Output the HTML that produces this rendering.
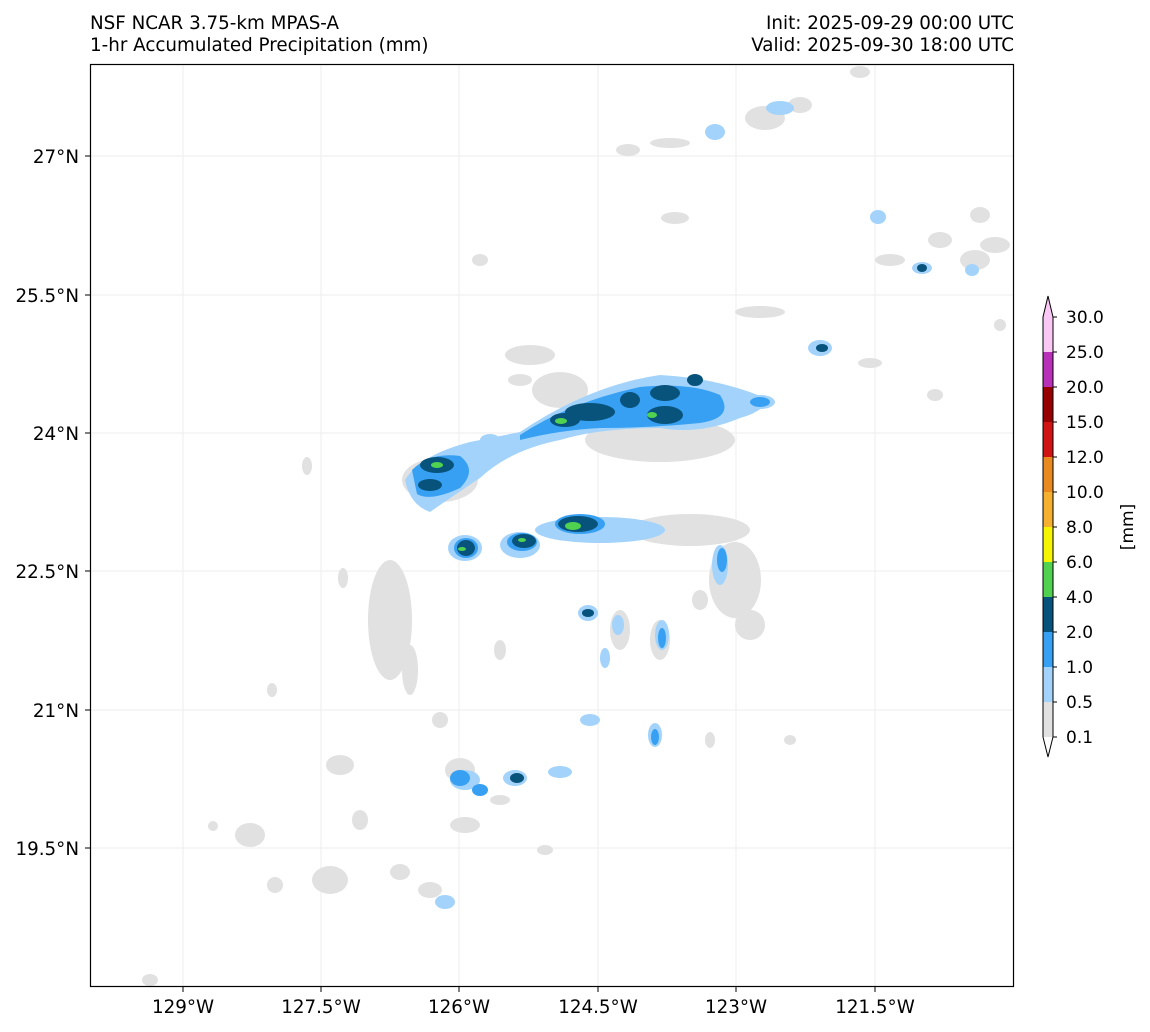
<!DOCTYPE html>
<html><head><meta charset="utf-8"><style>
body{margin:0;background:#fff;width:1150px;height:1032px;overflow:hidden}
svg{display:block;font-family:"DejaVu Sans","Liberation Sans",sans-serif}
</style></head><body>
<svg width="1150" height="1032" viewBox="0 0 1150 1032">
<text x="90" y="29" font-size="18.3">NSF NCAR 3.75-km MPAS-A</text>
<text x="90" y="51" font-size="18.3">1-hr Accumulated Precipitation (mm)</text>
<text x="1014" y="29" font-size="18.3" text-anchor="end">Init: 2025-09-29 00:00 UTC</text>
<text x="1014" y="51" font-size="18.3" text-anchor="end">Valid: 2025-09-30 18:00 UTC</text>
<g stroke="#eee" stroke-width="1">
<line x1="183" y1="64" x2="183" y2="987"/><line x1="321" y1="64" x2="321" y2="987"/><line x1="459" y1="64" x2="459" y2="987"/><line x1="598" y1="64" x2="598" y2="987"/><line x1="736" y1="64" x2="736" y2="987"/><line x1="875" y1="64" x2="875" y2="987"/>
<line x1="90" y1="156" x2="1014" y2="156"/><line x1="90" y1="295" x2="1014" y2="295"/><line x1="90" y1="433" x2="1014" y2="433"/><line x1="90" y1="571" x2="1014" y2="571"/><line x1="90" y1="710" x2="1014" y2="710"/><line x1="90" y1="848" x2="1014" y2="848"/>
</g>
<g fill="#e1e1e1">
<ellipse cx="390" cy="620" rx="22" ry="60"/><ellipse cx="410" cy="670" rx="8" ry="25"/>
<ellipse cx="560" cy="390" rx="28" ry="18"/><ellipse cx="530" cy="355" rx="25" ry="10"/>
<ellipse cx="660" cy="440" rx="75" ry="22"/><ellipse cx="690" cy="530" rx="60" ry="16"/>
<ellipse cx="735" cy="580" rx="26" ry="38"/><ellipse cx="750" cy="625" rx="15" ry="15"/>
<ellipse cx="440" cy="480" rx="38" ry="22"/><ellipse cx="460" cy="770" rx="15" ry="12"/>
<ellipse cx="250" cy="835" rx="15" ry="12"/><ellipse cx="330" cy="880" rx="18" ry="14"/>
<ellipse cx="340" cy="765" rx="14" ry="10"/><ellipse cx="465" cy="825" rx="15" ry="8"/>
<ellipse cx="765" cy="118" rx="20" ry="12"/><ellipse cx="800" cy="105" rx="12" ry="8"/>
<ellipse cx="860" cy="72" rx="10" ry="6"/><ellipse cx="670" cy="143" rx="20" ry="5"/>
<ellipse cx="628" cy="150" rx="12" ry="6"/><ellipse cx="675" cy="218" rx="14" ry="6"/>
<ellipse cx="940" cy="240" rx="12" ry="8"/><ellipse cx="980" cy="215" rx="10" ry="8"/>
<ellipse cx="890" cy="260" rx="15" ry="6"/><ellipse cx="975" cy="260" rx="15" ry="10"/>
<ellipse cx="995" cy="245" rx="15" ry="8"/><ellipse cx="760" cy="312" rx="25" ry="6"/>
<ellipse cx="820" cy="348" rx="12" ry="6"/><ellipse cx="870" cy="363" rx="12" ry="5"/>
<ellipse cx="935" cy="395" rx="8" ry="6"/><ellipse cx="480" cy="260" rx="8" ry="6"/>
<ellipse cx="307" cy="466" rx="5" ry="9"/><ellipse cx="343" cy="578" rx="5" ry="10"/>
<ellipse cx="272" cy="690" rx="5" ry="7"/><ellipse cx="213" cy="826" rx="5" ry="5"/>
<ellipse cx="275" cy="885" rx="8" ry="8"/><ellipse cx="400" cy="872" rx="10" ry="8"/>
<ellipse cx="500" cy="800" rx="10" ry="5"/><ellipse cx="545" cy="850" rx="8" ry="5"/>
<ellipse cx="790" cy="740" rx="6" ry="5"/><ellipse cx="710" cy="740" rx="5" ry="8"/>
<ellipse cx="660" cy="640" rx="10" ry="20"/><ellipse cx="620" cy="630" rx="10" ry="20"/>
<ellipse cx="700" cy="600" rx="8" ry="10"/><ellipse cx="500" cy="650" rx="6" ry="10"/>
<ellipse cx="440" cy="720" rx="8" ry="8"/><ellipse cx="360" cy="820" rx="8" ry="10"/>
<ellipse cx="1000" cy="325" rx="6" ry="6"/><ellipse cx="430" cy="890" rx="12" ry="8"/>
<ellipse cx="150" cy="980" rx="8" ry="6"/><ellipse cx="520" cy="380" rx="12" ry="6"/>
</g>
<g fill="#a3d3fa">
<path d="M405,480 Q420,455 470,442 L520,432 Q590,385 660,375 Q720,378 770,400 Q760,413 740,418 Q700,435 660,428 Q600,428 560,440 Q510,450 480,478 Q450,498 430,512 Q410,505 405,480Z"/>
<ellipse cx="600" cy="530" rx="65" ry="13"/><ellipse cx="520" cy="545" rx="20" ry="13"/>
<ellipse cx="465" cy="548" rx="17" ry="13"/><ellipse cx="720" cy="565" rx="8" ry="20"/>
<ellipse cx="465" cy="780" rx="15" ry="10"/><ellipse cx="515" cy="778" rx="12" ry="8"/>
<ellipse cx="560" cy="772" rx="12" ry="6"/><ellipse cx="590" cy="720" rx="10" ry="6"/>
<ellipse cx="655" cy="735" rx="7" ry="12"/><ellipse cx="588" cy="613" rx="10" ry="8"/>
<ellipse cx="662" cy="635" rx="7" ry="15"/><ellipse cx="618" cy="625" rx="6" ry="10"/>
<ellipse cx="605" cy="658" rx="5" ry="10"/><ellipse cx="820" cy="348" rx="12" ry="8"/>
<ellipse cx="922" cy="268" rx="10" ry="6"/><ellipse cx="878" cy="217" rx="8" ry="7"/>
<ellipse cx="780" cy="108" rx="14" ry="7"/><ellipse cx="715" cy="132" rx="10" ry="8"/>
<ellipse cx="445" cy="902" rx="10" ry="7"/><ellipse cx="972" cy="270" rx="7" ry="6"/>
<ellipse cx="490" cy="440" rx="10" ry="6"/><ellipse cx="760" cy="402" rx="15" ry="7"/>
</g>
<g fill="#38a0f2">
<path d="M520,435 Q570,402 640,387 Q690,382 720,395 Q735,418 700,423 Q650,428 600,428 Q560,430 520,440Z"/>
<path d="M412,470 Q430,452 460,456 Q478,470 460,488 Q430,502 417,494Z"/>
<ellipse cx="580" cy="524" rx="25" ry="10"/><ellipse cx="522" cy="542" rx="15" ry="9"/>
<ellipse cx="466" cy="548" rx="12" ry="10"/><ellipse cx="460" cy="778" rx="10" ry="8"/>
<ellipse cx="480" cy="790" rx="8" ry="6"/><ellipse cx="722" cy="560" rx="5" ry="12"/>
<ellipse cx="662" cy="638" rx="4" ry="10"/><ellipse cx="655" cy="737" rx="4" ry="8"/>
<ellipse cx="760" cy="402" rx="10" ry="5"/>
</g>
<g fill="#08537c">
<ellipse cx="590" cy="412" rx="25" ry="9"/><ellipse cx="565" cy="420" rx="15" ry="7"/>
<ellipse cx="630" cy="400" rx="10" ry="8"/><ellipse cx="665" cy="393" rx="15" ry="8"/>
<ellipse cx="665" cy="415" rx="18" ry="9"/><ellipse cx="695" cy="380" rx="8" ry="6"/>
<ellipse cx="437" cy="465" rx="17" ry="8"/><ellipse cx="430" cy="485" rx="12" ry="6"/>
<ellipse cx="578" cy="524" rx="20" ry="8"/><ellipse cx="524" cy="541" rx="12" ry="7"/>
<ellipse cx="466" cy="548" rx="9" ry="8"/><ellipse cx="517" cy="778" rx="7" ry="5"/>
<ellipse cx="588" cy="613" rx="6" ry="4"/><ellipse cx="822" cy="348" rx="6" ry="4"/>
<ellipse cx="922" cy="268" rx="5" ry="4"/>
</g>
<g fill="#50d250">
<ellipse cx="561" cy="421" rx="6" ry="3"/><ellipse cx="437" cy="465" rx="6" ry="3"/>
<ellipse cx="573" cy="526" rx="8" ry="4"/><ellipse cx="652" cy="415" rx="5" ry="3"/>
<ellipse cx="522" cy="540" rx="4" ry="2"/><ellipse cx="462" cy="549" rx="4" ry="2"/>
</g>
<rect x="90.5" y="64.5" width="923" height="922" fill="none" stroke="#000" stroke-width="1.2"/>
<g font-size="18.3" text-anchor="middle">
<text x="183" y="1013">129°W</text><text x="321" y="1013">127.5°W</text><text x="459" y="1013">126°W</text><text x="598" y="1013">124.5°W</text><text x="736" y="1013">123°W</text><text x="875" y="1013">121.5°W</text>
</g>
<g font-size="18.3" text-anchor="end">
<text x="79" y="163">27°N</text><text x="79" y="302">25.5°N</text><text x="79" y="440">24°N</text><text x="79" y="578">22.5°N</text><text x="79" y="717">21°N</text><text x="79" y="855">19.5°N</text>
</g>
<g stroke="#000" stroke-width="1"><line x1="183" y1="987" x2="183" y2="992"/><line x1="321" y1="987" x2="321" y2="992"/><line x1="459" y1="987" x2="459" y2="992"/><line x1="598" y1="987" x2="598" y2="992"/><line x1="736" y1="987" x2="736" y2="992"/><line x1="875" y1="987" x2="875" y2="992"/>
<line x1="85" y1="156" x2="90" y2="156"/><line x1="85" y1="295" x2="90" y2="295"/><line x1="85" y1="433" x2="90" y2="433"/><line x1="85" y1="571" x2="90" y2="571"/><line x1="85" y1="710" x2="90" y2="710"/><line x1="85" y1="848" x2="90" y2="848"/></g>
<g>
<rect x="1043" y="702" width="10" height="35" fill="#e1e1e1"/>
<rect x="1043" y="667" width="10" height="35" fill="#a3d3fa"/>
<rect x="1043" y="632" width="10" height="35" fill="#38a0f2"/>
<rect x="1043" y="597" width="10" height="35" fill="#08537c"/>
<rect x="1043" y="562" width="10" height="35" fill="#50d250"/>
<rect x="1043" y="527" width="10" height="35" fill="#f5f500"/>
<rect x="1043" y="492" width="10" height="35" fill="#f5b030"/>
<rect x="1043" y="457" width="10" height="35" fill="#e88a20"/>
<rect x="1043" y="422" width="10" height="35" fill="#d01414"/>
<rect x="1043" y="387" width="10" height="35" fill="#960000"/>
<rect x="1043" y="352" width="10" height="35" fill="#b830b8"/>
<rect x="1043" y="317" width="10" height="35" fill="#fac8f5"/>
<polygon points="1043,317 1048,296 1053,317" fill="#fac8f5"/>
<polygon points="1043,737 1048,757 1053,737" fill="#fff"/>
<path d="M1043,317 L1048,296 L1053,317 L1053,737 L1048,757 L1043,737Z" fill="none" stroke="#000" stroke-width="1"/>
</g>
<g font-size="17"><g stroke="#000"><line x1="1053" y1="737" x2="1057" y2="737"/><line x1="1053" y1="702" x2="1057" y2="702"/><line x1="1053" y1="667" x2="1057" y2="667"/><line x1="1053" y1="632" x2="1057" y2="632"/><line x1="1053" y1="597" x2="1057" y2="597"/><line x1="1053" y1="562" x2="1057" y2="562"/><line x1="1053" y1="527" x2="1057" y2="527"/><line x1="1053" y1="492" x2="1057" y2="492"/><line x1="1053" y1="457" x2="1057" y2="457"/><line x1="1053" y1="422" x2="1057" y2="422"/><line x1="1053" y1="387" x2="1057" y2="387"/><line x1="1053" y1="352" x2="1057" y2="352"/><line x1="1053" y1="317" x2="1057" y2="317"/></g>
<text x="1066" y="743">0.1</text><text x="1066" y="708">0.5</text><text x="1066" y="673">1.0</text><text x="1066" y="638">2.0</text><text x="1066" y="603">4.0</text><text x="1066" y="568">6.0</text><text x="1066" y="533">8.0</text><text x="1066" y="498">10.0</text><text x="1066" y="463">12.0</text><text x="1066" y="428">15.0</text><text x="1066" y="393">20.0</text><text x="1066" y="358">25.0</text><text x="1066" y="323">30.0</text>
<text transform="translate(1133,527) rotate(-90)" text-anchor="middle">[mm]</text></g>
</svg>
</body></html>
